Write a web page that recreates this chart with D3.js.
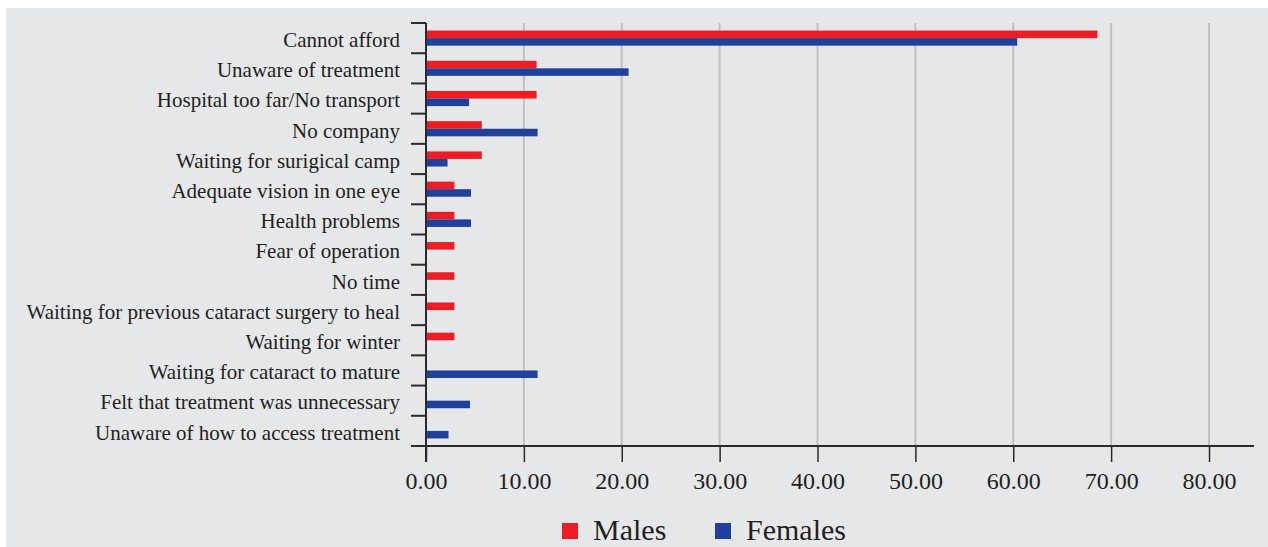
<!DOCTYPE html>
<html>
<head>
<meta charset="utf-8">
<script src="https://cdn.jsdelivr.net/npm/d3@7"></script>
<style>
  html, body { margin: 0; padding: 0; background: #ffffff; }
  svg { display: block; }
  text { font-family: "Liberation Serif", "DejaVu Serif", serif; fill: #231f20; }
</style>
</head>
<body>
<svg id="chart" width="1268" height="547"></svg>
<script>
// Reasons for not having cataract surgery, % of respondents by sex
const categories = [
  "Cannot afford",
  "Unaware of treatment",
  "Hospital too far/No transport",
  "No company",
  "Waiting for surigical camp",
  "Adequate vision in one eye",
  "Health problems",
  "Fear of operation",
  "No time",
  "Waiting for previous cataract surgery to heal",
  "Waiting for winter",
  "Waiting for cataract to mature",
  "Felt that treatment was unnecessary",
  "Unaware of how to access treatment"
];
const males   = [68.6, 11.3, 11.3, 5.7, 5.7, 2.9, 2.9, 2.9, 2.9, 2.9, 2.9, 0, 0, 0];
const females = [60.4, 20.7, 4.4, 11.4, 2.2, 4.6, 4.6, 0, 0, 0, 0, 11.4, 4.5, 2.3];
const seriesNames = ["Males", "Females"];
const seriesColors = ["#ee1c25", "#21409a"];
const xTicks = [0, 10, 20, 30, 40, 50, 60, 70, 80];

const svg = d3.select("#chart");

// panel background
svg.append("rect")
  .attr("x", 6).attr("y", 8)
  .attr("width", 1262).attr("height", 539)
  .attr("fill", "#e6e7e9");

const x = d3.scaleLinear().domain([0, 80]).range([426, 1209]);
const y = d3.scaleBand().domain(categories).range([23, 446]).padding(0);
const ySub = d3.scaleBand().domain(seriesNames).range([0, y.bandwidth()])
  .paddingInner(0).paddingOuter(1);

// vertical gridlines
svg.append("g")
  .selectAll("line")
  .data(xTicks.filter(d => d > 0))
  .join("line")
  .attr("x1", d => x(d)).attr("x2", d => x(d))
  .attr("y1", 23).attr("y2", 446)
  .attr("stroke", "#bfc0c2")
  .attr("stroke-width", 2);

// bars
const rows = categories.map((c, i) => ({ c, vals: [males[i], females[i]] }));
const gRows = svg.append("g")
  .selectAll("g")
  .data(rows)
  .join("g")
  .attr("transform", d => `translate(0,${y(d.c)})`);

gRows.selectAll("rect")
  .data(d => d.vals.map((v, k) => ({ v, s: seriesNames[k], col: seriesColors[k] })).filter(e => e.v > 0))
  .join("rect")
  .attr("x", x(0))
  .attr("y", e => ySub(e.s))
  .attr("width", e => x(e.v) - x(0))
  .attr("height", ySub.bandwidth())
  .attr("fill", e => e.col);

// y axis: line plus ticks at band boundaries
const yAxisG = svg.append("g");
yAxisG.append("line")
  .attr("x1", x(0)).attr("x2", x(0))
  .attr("y1", 23).attr("y2", 462)
  .attr("stroke", "#2b2b2b").attr("stroke-width", 2);
const boundaries = categories.map(c => y(c)).concat([446]);
yAxisG.selectAll("line.tk")
  .data(boundaries)
  .join("line")
  .attr("class", "tk")
  .attr("x1", 411).attr("x2", x(0))
  .attr("y1", d => d).attr("y2", d => d)
  .attr("stroke", "#2b2b2b").attr("stroke-width", 2);
yAxisG.selectAll("text")
  .data(categories)
  .join("text")
  .attr("x", 400)
  .attr("y", d => y(d) + y.bandwidth() / 2)
  .attr("dy", "0.42em")
  .attr("text-anchor", "end")
  .attr("font-size", 21)
  .text(d => d);

// x axis
const xAxisG = svg.append("g").attr("transform", "translate(0,446)");
xAxisG.call(d3.axisBottom(x).tickValues(xTicks).tickSize(16).tickPadding(10)
  .tickFormat(d => d3.format(".2f")(d)));
xAxisG.select(".domain").remove();
xAxisG.append("line")
  .attr("x1", 411).attr("x2", 1254)
  .attr("y1", 0).attr("y2", 0)
  .attr("stroke", "#2b2b2b").attr("stroke-width", 2);
xAxisG.selectAll(".tick line").attr("stroke", "#2b2b2b").attr("stroke-width", 1.5);
xAxisG.selectAll(".tick text")
  .attr("font-family", "Liberation Serif, DejaVu Serif, serif")
  .attr("font-size", 24)
  .attr("fill", "#231f20");

// legend
const legend = svg.append("g");
const legendItems = [
  { name: seriesNames[0], col: seriesColors[0], x: 562 },
  { name: seriesNames[1], col: seriesColors[1], x: 715 }
];
legend.selectAll("rect")
  .data(legendItems)
  .join("rect")
  .attr("x", d => d.x).attr("y", 523)
  .attr("width", 16).attr("height", 16)
  .attr("fill", d => d.col);
legend.selectAll("text")
  .data(legendItems)
  .join("text")
  .attr("x", d => d.x + 31)
  .attr("y", 540)
  .attr("font-size", 30)
  .text(d => d.name);
</script>
</body>
</html>
